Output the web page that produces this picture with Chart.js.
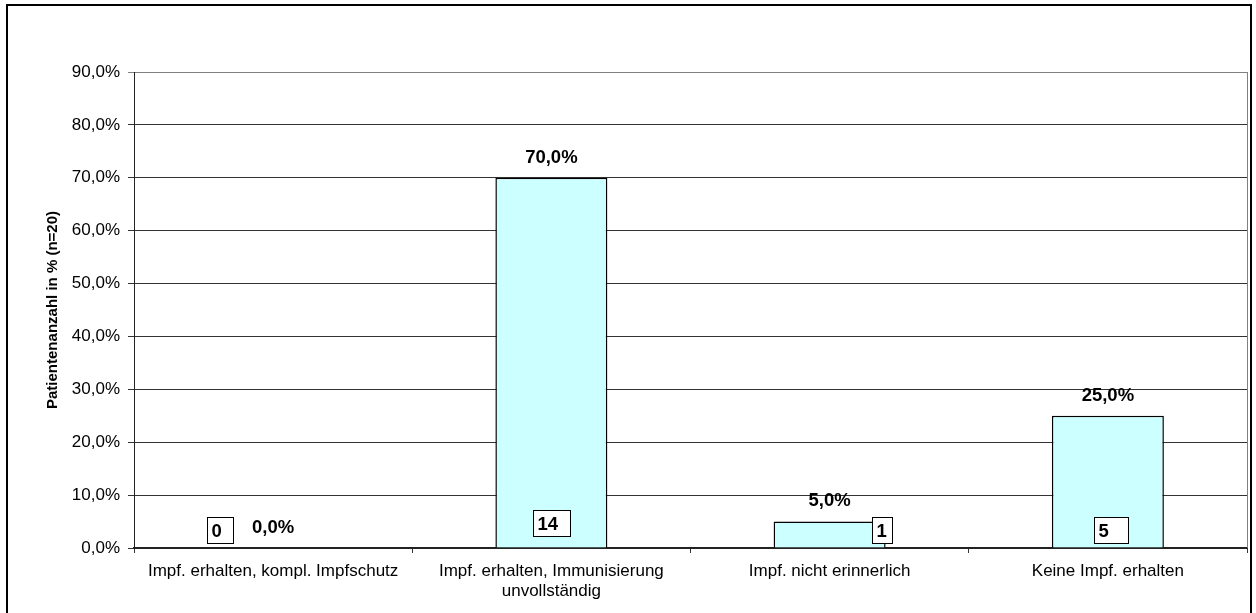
<!DOCTYPE html>
<html>
<head>
<meta charset="utf-8">
<script src="https://cdn.jsdelivr.net/npm/chart.js@4/dist/chart.umd.min.js"></script>
<style>
  html, body { margin: 0; padding: 0; background: #fff; }
  #wrap { width: 1256px; height: 613px; position: relative; }
</style>
</head>
<body>
<div id="wrap"><canvas id="c" width="1256" height="613"></canvas></div>
<script>
// Vaccination status of patients (n = 20)
const categories = [
  'Impf. erhalten, kompl. Impfschutz',
  ['Impf. erhalten, Immunisierung', 'unvollständig'],
  'Impf. nicht erinnerlich',
  'Keine Impf. erhalten'
];
const percentValues = [0, 70, 5, 25];
const patientCounts = [0, 14, 1, 5];
const yTickValues = [0, 10, 20, 30, 40, 50, 60, 70, 80, 90];
const yAxisTitle = 'Patientenanzahl in % (n=20)';

const FONT = "'Liberation Sans', Arial, sans-serif";
const fmtPct = v => v.toFixed(1).replace('.', ',') + '%';

// Outer frame around the whole chart
const framePlugin = {
  id: 'frame',
  afterDraw(chart) {
    const ctx = chart.ctx;
    ctx.save();
    ctx.strokeStyle = '#000';
    ctx.lineWidth = 2;
    ctx.strokeRect(7, 5, 1244, 640);
    // right edge of the plot area
    const a = chart.chartArea;
    ctx.strokeStyle = '#808080';
    ctx.lineWidth = 1;
    ctx.beginPath();
    ctx.moveTo(Math.round(a.right) + 0.5, a.top);
    ctx.lineTo(Math.round(a.right) + 0.5, a.bottom);
    ctx.stroke();
    ctx.restore();
  }
};

// Percent labels above each bar, boxed patient counts near the base
const labelPlugin = {
  id: 'barLabels',
  afterDatasetsDraw(chart, args, opts) {
    const ctx = chart.ctx;
    const meta = chart.getDatasetMeta(0);
    const base = chart.scales.y.getPixelForValue(0);
    ctx.save();
    ctx.font = 'bold 18.5px ' + FONT;
    ctx.fillStyle = '#000';
    ctx.textAlign = 'center';
    ctx.textBaseline = 'bottom';
    meta.data.forEach((bar, i) => {
      ctx.fillText(fmtPct(percentValues[i]), bar.x, bar.y - 11);
    });
    // count boxes
    ctx.textAlign = 'left';
    ctx.textBaseline = 'middle';
    meta.data.forEach((bar, i) => {
      const left = Math.round(bar.x + opts.boxDx[i]) + 0.5;
      const bottom = Math.round(base + opts.boxDy[i]) + 0.5;
      const h = 26, w = opts.boxW[i];
      ctx.fillStyle = '#fff';
      ctx.fillRect(left, bottom - h, w, h);
      ctx.strokeStyle = '#000';
      ctx.lineWidth = 1;
      ctx.strokeRect(left, bottom - h, w, h);
      ctx.fillStyle = '#000';
      ctx.fillText(String(patientCounts[i]), left + 4, bottom - h / 2 + 1);
    });
    ctx.restore();
  }
};

new Chart(document.getElementById('c'), {
  type: 'bar',
  data: {
    labels: categories,
    datasets: [{
      data: percentValues,
      backgroundColor: '#CCFFFF',
      borderColor: '#000',
      borderWidth: 1.5,
      categoryPercentage: 1,
      barPercentage: 0.4025
    }]
  },
  options: {
    responsive: false,
    animation: false,
    devicePixelRatio: 1,
    layout: { padding: { top: 72, right: 9, left: 0, bottom: 0 } },
    plugins: {
      legend: { display: false },
      tooltip: { enabled: false },
      barLabels: {
        boxDx: [-66, -18, 42, -14],
        boxDy: [-5, -12, -5, -5],
        boxW: [26, 37, 20, 34]
      }
    },
    scales: {
      x: {
        grid: {
          offset: true,
          drawOnChartArea: false,
          drawTicks: true,
          tickLength: 5,
          color: '#333'
        },
        border: { display: true, color: '#222', width: 2 },
        ticks: {
          color: '#000',
          font: { family: FONT, size: 17 },
          padding: 8,
          maxRotation: 0,
          autoSkip: false
        },
        afterFit(scale) { scale.height = 65; }
      },
      y: {
        min: 0,
        max: 90,
        afterBuildTicks(scale) {
          scale.ticks = yTickValues.map(v => ({ value: v }));
        },
        grid: {
          color: ctx => (ctx.tick && ctx.tick.value === 90) ? '#808080' : '#333',
          lineWidth: 1,
          drawTicks: true,
          tickLength: 6
        },
        border: { display: true, color: '#222', width: 1 },
        ticks: {
          color: '#000',
          font: { family: FONT, size: 17 },
          padding: 8,
          callback: v => fmtPct(v)
        },
        title: {
          display: true,
          text: yAxisTitle,
          color: '#000',
          font: { family: FONT, size: 15, weight: 'bold' },
          padding: { top: 44, bottom: 0 }
        },
        afterFit(scale) { scale.width = 134; }
      }
    }
  },
  plugins: [framePlugin, labelPlugin]
});
</script>
</body>
</html>
